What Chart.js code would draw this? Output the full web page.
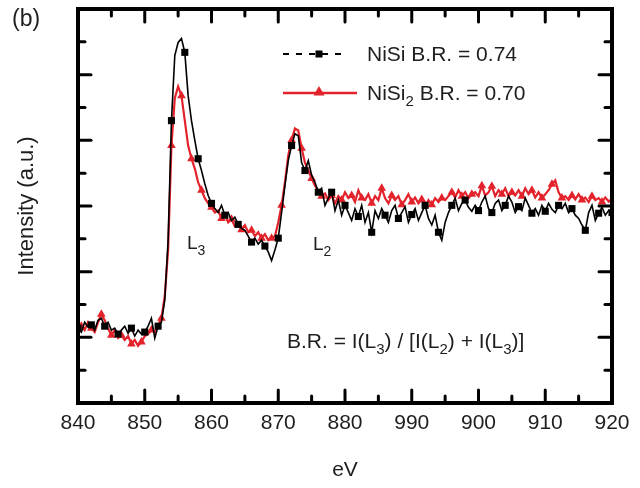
<!DOCTYPE html>
<html>
<head>
<meta charset="utf-8">
<script src="https://cdn.jsdelivr.net/npm/chart.js@4.4.1/dist/chart.umd.min.js"></script>
<style>
  html, body { margin: 0; padding: 0; background: #fff; }
  #wrap { width: 640px; height: 488px; }
</style>
</head>
<body>
<div id="wrap"><canvas id="c" width="640" height="488"></canvas></div>
<script>
// Ni L2,3 edge spectra, sampled every 0.5 eV from 840 eV
const energyStart = 840;
const energyStep = 0.5;

const nisiIntensity = [
  114,108,123,116,119,111,126,129,117,123,
  111,114,105,111,117,106,114,102,111,105,
  108,117,129,99,117,123,157,248,430,529,
  549,555,534,468,430,400,372,354,334,316,
  304,296,290,301,286,290,278,283,272,266,
  263,254,245,251,242,248,239,230,217,233,
  251,290,331,369,392,410,407,366,354,369,
  347,336,321,327,301,312,321,293,309,286,
  301,290,278,296,284,301,275,290,260,293,
  281,296,286,275,293,301,281,290,299,275,
  287,296,278,290,301,281,271,286,260,248,
  275,290,301,312,293,304,309,298,292,301,
  293,306,315,296,290,304,309,293,301,315,
  306,290,299,293,312,301,289,296,286,301,
  292,304,295,290,301,296,304,290,296,286,
  281,271,263,290,301,278,289,298,286,293,
  290
];

const nisi2Intensity = [
  103,117,111,123,114,108,123,135,126,114,
  103,111,99,103,96,102,90,96,87,93,
  102,105,111,108,119,129,163,233,392,464,
  482,468,430,392,372,357,336,324,312,304,
  298,290,293,281,287,275,280,269,272,264,
  271,260,263,254,260,251,257,248,251,254,
  275,301,336,377,400,418,415,388,366,354,
  342,331,324,315,319,309,316,304,315,309,
  321,312,316,306,324,312,309,318,304,315,
  309,327,312,304,316,309,315,302,309,318,
  306,313,304,310,299,309,302,312,306,312,
  309,315,321,313,324,315,321,312,318,321,
  315,331,316,321,330,315,324,318,327,315,
  321,316,324,315,327,318,324,313,321,312,
  318,324,333,339,321,312,315,309,316,310,
  318,309,313,306,315,309,312,306,313,307,
  309
];

const xTickLabels = ['840', '850', '860', '870', '880', '990', '900', '910', '920'];

// legend entries as [text, isSubscript] runs
const nisiLabel = [['NiSi B.R. = 0.74', false]];
const nisi2Label = [['NiSi', false], ['2', true], [' B.R. = 0.70', false]];
const ratioLabel = [['B.R. = I(L', false], ['3', true], [') / [I(L', false], ['2', true],
                    [') + I(L', false], ['3', true], [')]', false]];

const FONT = '"Liberation Sans", Arial, Helvetica, sans-serif';
const INK = '#1e1e1e';
const RED = '#e3232b';

const toPoints = arr => arr.map((v, i) => ({ x: energyStart + i * energyStep, y: v }));

function drawRuns(ctx, x, y, runs, size, subSize) {
  let cx = x;
  for (const [text, sub] of runs) {
    ctx.font = (sub ? subSize : size) + 'px ' + FONT;
    ctx.fillText(text, cx, sub ? y + Math.round(size * 0.3) : y);
    cx += ctx.measureText(text).width;
  }
}

const decorations = {
  id: 'decorations',
  afterDatasetsDraw(chart) {
    const { ctx, chartArea: a, scales: { x, y } } = chart;
    ctx.save();

    // inward ticks on all four sides
    ctx.strokeStyle = '#000';
    ctx.lineWidth = 3;
    ctx.lineCap = 'round';
    const seg = (x1, y1, x2, y2) => { ctx.beginPath(); ctx.moveTo(x1, y1); ctx.lineTo(x2, y2); ctx.stroke(); };
    for (let v = x.min + 5; v < x.max; v += 5) {
      const px = x.getPixelForValue(v);
      const len = (v % 10 === 0) ? 13 : 7;
      seg(px, a.bottom, px, a.bottom - len);
      seg(px, a.top, px, a.top + len);
    }
    for (let v = 50; v < y.max; v += 50) {
      const py = y.getPixelForValue(v);
      const len = (v % 100 === 0) ? 13 : 7;
      seg(a.left, py, a.left + len, py);
      seg(a.right, py, a.right - len, py);
    }

    // frame
    ctx.lineWidth = 4;
    ctx.lineCap = 'butt';
    ctx.lineJoin = 'miter';
    ctx.strokeRect(a.left, a.top, a.right - a.left, a.bottom - a.top);

    // legend
    ctx.strokeStyle = '#000';
    ctx.lineWidth = 2;
    ctx.setLineDash([6, 7]);
    seg(283, 54, 346, 54);
    ctx.setLineDash([]);
    ctx.fillStyle = '#000';
    ctx.fillRect(315.5, 50.5, 7, 7);

    ctx.strokeStyle = RED;
    ctx.lineWidth = 2.5;
    seg(283, 93, 357, 93);
    ctx.fillStyle = RED;
    ctx.beginPath();
    ctx.moveTo(319, 86); ctx.lineTo(324.5, 95.5); ctx.lineTo(313.5, 95.5); ctx.closePath(); ctx.fill();

    ctx.fillStyle = INK;
    ctx.textBaseline = 'alphabetic';
    ctx.textAlign = 'left';
    drawRuns(ctx, 367, 61, nisiLabel, 21, 15);
    drawRuns(ctx, 367, 100, nisi2Label, 21, 15);

    // edge labels
    drawRuns(ctx, 187, 249, [['L', false], ['3', true]], 19, 14);
    drawRuns(ctx, 313, 250, [['L', false], ['2', true]], 19, 14);

    // branching ratio definition
    drawRuns(ctx, 287, 348, ratioLabel, 21, 15);

    // panel tag
    ctx.font = '23px ' + FONT;
    ctx.fillText('(b)', 12, 26);

    ctx.restore();
  }
};

new Chart(document.getElementById('c'), {
  type: 'line',
  data: {
    datasets: [
      {
        label: 'NiSi',
        data: toPoints(nisiIntensity),
        borderColor: '#000',
        backgroundColor: '#000',
        borderWidth: 1.6,
        pointStyle: 'rect',
        pointRadius: ctx => (ctx.dataIndex % 4 === 0 ? 5 : 0),
        pointBorderWidth: 0,
        tension: 0,
        order: 1
      },
      {
        label: 'NiSi2',
        data: toPoints(nisi2Intensity),
        borderColor: RED,
        backgroundColor: RED,
        borderWidth: 2.2,
        pointStyle: 'triangle',
        pointRadius: ctx => (ctx.dataIndex % 3 === 1 ? 5 : 0),
        pointBorderWidth: 0,
        tension: 0,
        order: 2
      }
    ]
  },
  options: {
    responsive: false,
    animation: false,
    events: [],
    layout: { padding: { left: 0, right: 28, top: 9, bottom: 0 } },
    plugins: { legend: { display: false }, tooltip: { enabled: false } },
    scales: {
      x: {
        type: 'linear',
        min: 840,
        max: 920,
        grid: { display: false, drawTicks: false },
        border: { display: false },
        ticks: {
          stepSize: 10,
          autoSkip: false,
          maxRotation: 0,
          padding: 8,
          color: INK,
          font: { family: FONT, size: 21 },
          callback: (v, i) => xTickLabels[i]
        },
        title: {
          display: true,
          text: 'eV',
          color: INK,
          font: { family: FONT, size: 21, lineHeight: 1.2 },
          padding: { top: 0, bottom: 5 }
        },
        afterFit: s => { s.height = 85; }
      },
      y: {
        min: 0,
        max: 600,
        grid: { display: false, drawTicks: false },
        border: { display: false },
        ticks: { display: false },
        title: {
          display: true,
          text: 'Intensity (a.u.)',
          color: INK,
          font: { family: FONT, size: 22, lineHeight: 1.2 },
          padding: { top: 14, bottom: 0 }
        },
        afterFit: s => { s.width = 78; }
      }
    }
  },
  plugins: [decorations]
});
</script>
</body>
</html>
